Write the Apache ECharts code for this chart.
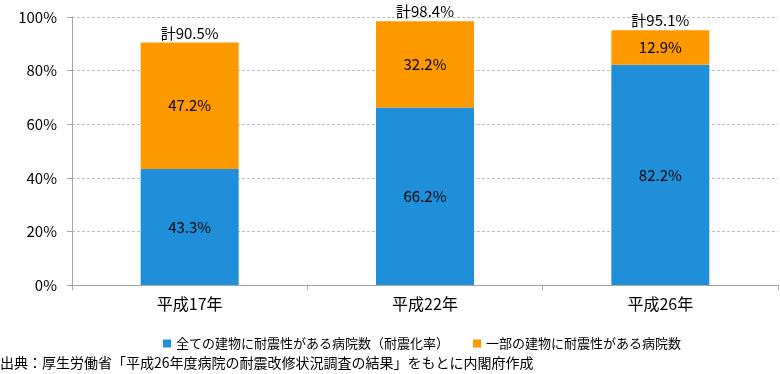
<!DOCTYPE html>
<html><head><meta charset="utf-8">
<script src="https://cdn.jsdelivr.net/npm/echarts@6/dist/echarts.min.js"></script>
<style>html,body{margin:0;padding:0;background:#fff}#c{width:780px;height:374px}</style>
</head><body><div id="c"></div>
<script>
const categories = ['平成17年', '平成22年', '平成26年'];
const allBuildings = [43.3, 66.2, 82.2];
const partBuildings = [47.2, 32.2, 12.9];
const totals = [90.5, 98.4, 95.1];
const seriesNames = ['全ての建物に耐震性がある病院数（耐震化率）', '一部の建物に耐震性がある病院数'];
const sourceText = '出典：厚生労働省「平成26年度病院の耐震改修状況調査の結果」をもとに内閣府作成';

const font = '"Noto Sans CJK JP", "Noto Sans", sans-serif';
const chart = echarts.init(document.getElementById('c'));
chart.setOption({
  animation: false,
  textStyle: { fontFamily: font },
  grid: { left: 72, right: 2, top: 17, bottom: 89 },
  legend: {
    data: seriesNames,
    left: 158,
    top: 332,
    itemWidth: 8, itemHeight: 8, itemGap: 24,
    icon: 'rect',
    textStyle: { fontSize: 13, color: '#000', fontFamily: font }
  },
  graphic: [{
    type: 'text', left: 0, top: 356,
    style: { text: sourceText, fontSize: 14, fill: '#000', fontFamily: font }
  }],
  xAxis: {
    type: 'category', data: categories,
    axisLine: { lineStyle: { color: '#a6a6a6' } },
    axisTick: { show: true, length: 5, lineStyle: { color: '#a6a6a6' } },
    axisLabel: { fontSize: 16, color: '#000', margin: 11, fontFamily: font }
  },
  yAxis: {
    type: 'value', min: 0, max: 100, interval: 20,
    axisLine: { show: true, lineStyle: { color: '#a6a6a6' } },
    axisTick: { show: true, length: 5, lineStyle: { color: '#a6a6a6' } },
    splitLine: { lineStyle: { color: '#bfbfbf', type: [3, 2] } },
    axisLabel: { formatter: '{value}%', fontSize: 15, color: '#000', margin: 15, fontFamily: font }
  },
  series: [{
    name: seriesNames[0], type: 'bar', stack: 's', data: allBuildings,
    barWidth: 98,
    itemStyle: { color: '#1e8fd8' },
    label: { show: true, position: 'inside', formatter: p => p.value.toFixed(1) + '%', fontSize: 15, color: '#000', fontFamily: font }
  }, {
    name: seriesNames[1], type: 'bar', stack: 's', data: partBuildings,
    barWidth: 98,
    itemStyle: { color: '#ff9900' },
    label: { show: true, position: 'inside', formatter: p => p.value.toFixed(1) + '%', fontSize: 15, color: '#000', fontFamily: font }
  }, {
    type: 'bar', stack: 's', data: totals.map(() => 0), barWidth: 98,
    silent: true, legendHoverLink: false,
    label: { show: true, position: 'top', distance: 2, formatter: p => '計' + totals[p.dataIndex].toFixed(1) + '%', fontSize: 15, color: '#000', fontFamily: font }
  }]
});
</script></body></html>
